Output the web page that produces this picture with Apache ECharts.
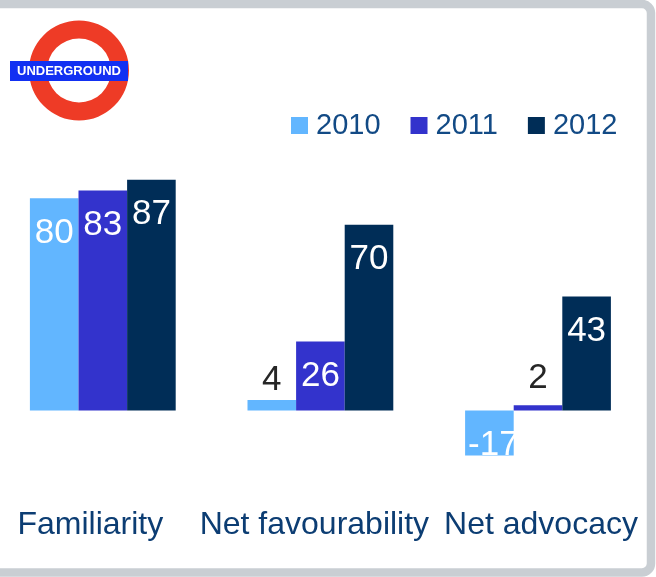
<!DOCTYPE html>
<html>
<head>
<meta charset="utf-8">
<script src="https://cdn.jsdelivr.net/npm/echarts@6/dist/echarts.min.js"></script>
<style>
  html, body { margin: 0; padding: 0; background: #fff; }
  #chart { width: 656px; height: 577px; }
</style>
</head>
<body>
<div id="chart"></div>
<script>
// Survey scores per measure, by year
const categories = ['Familiarity', 'Net favourability', 'Net advocacy'];
const years = ['2010', '2011', '2012'];
const values2010 = [80, 4, -17];
const values2011 = [83, 26, 2];
const values2012 = [87, 70, 43];

const seriesValues = [values2010, values2011, values2012];
const barColors = ['#62B6FF', '#3333CC', '#002D57'];
const textBlue = '#0C3D73';
const FONT = '"Liberation Sans", Arial, sans-serif';

// horizontal nudges for the category captions
const captionPadding = [[0, 25, 0, 0], [0, 12, 0, 0], [0, 0, 0, 6]];

// value label: white inside tall bars, dark above short ones
function labelFor(v, si) {
  const base = { show: true, fontFamily: FONT, fontSize: 35, lineHeight: 35 };
  if (v < 0) {
    return Object.assign(base, { position: 'inside', color: '#fff', offset: [4, 12] });
  }
  if (v < 10) {
    return Object.assign(base, { position: 'top', color: '#262626', distance: si === 0 ? 2 : 9 });
  }
  return Object.assign(base, { position: 'insideTop', color: '#fff', distance: 17 });
}

const chart = echarts.init(document.getElementById('chart'), null, { renderer: 'canvas' });

const option = {
  backgroundColor: '#fff',
  animation: false,
  grid: {
    left: -6, width: 652.8, top: 145.3, height: 344.8,
    outerBoundsMode: 'none', containLabel: false
  },
  legend: {
    data: years,
    left: 291, top: 111,
    padding: 0,
    itemWidth: 17, itemHeight: 17, itemGap: 30,
    icon: 'rect',
    textStyle: { fontFamily: FONT, fontSize: 29, lineHeight: 29, color: '#124A85', padding: [0, 0, 0, 3] }
  },
  xAxis: {
    type: 'category',
    data: categories,
    axisLine: { show: false, onZero: false },
    axisTick: { show: false },
    splitLine: { show: false },
    axisLabel: {
      margin: 19,
      interval: 0,
      fontFamily: FONT,
      fontSize: 32,
      color: textBlue,
      formatter: function (v, i) { return '{c' + i + '|' + v + '}'; },
      rich: {
        c0: { fontFamily: FONT, fontSize: 32, color: textBlue, padding: captionPadding[0] },
        c1: { fontFamily: FONT, fontSize: 32, color: textBlue, padding: captionPadding[1] },
        c2: { fontFamily: FONT, fontSize: 32, color: textBlue, padding: captionPadding[2] }
      }
    }
  },
  yAxis: {
    type: 'value',
    min: -30, max: 100,
    show: false,
    splitLine: { show: false }
  },
  series: years.map(function (y, si) {
    return {
      name: y,
      type: 'bar',
      barWidth: 48.6,
      barGap: '0%',
      itemStyle: { color: barColors[si] },
      data: seriesValues[si].map(function (v) {
        return { value: v, label: labelFor(v, si) };
      })
    };
  }),
  graphic: [
    // rounded frame around the panel
    {
      type: 'rect', z: 100,
      shape: { x: -20, y: 4, width: 671, height: 568.5, r: 9 },
      style: { fill: 'none', stroke: '#C9CED3', lineWidth: 8.5 }
    },
    // roundel logo
    {
      type: 'ring', z: 100,
      shape: { cx: 79, cy: 70.5, r: 50, r0: 32 },
      style: { fill: '#EE3B26' }
    },
    {
      type: 'rect', z: 101,
      shape: { x: 10, y: 61, width: 118, height: 20 },
      style: { fill: '#1230F2' }
    },
    {
      type: 'text', z: 102,
      x: 69, y: 71.5,
      style: {
        text: 'UNDERGROUND', fill: '#fff',
        font: 'bold 13px "Liberation Sans", Arial, sans-serif',
        align: 'center', verticalAlign: 'middle'
      }
    }
  ]
};

chart.setOption(option);
</script>
</body>
</html>
